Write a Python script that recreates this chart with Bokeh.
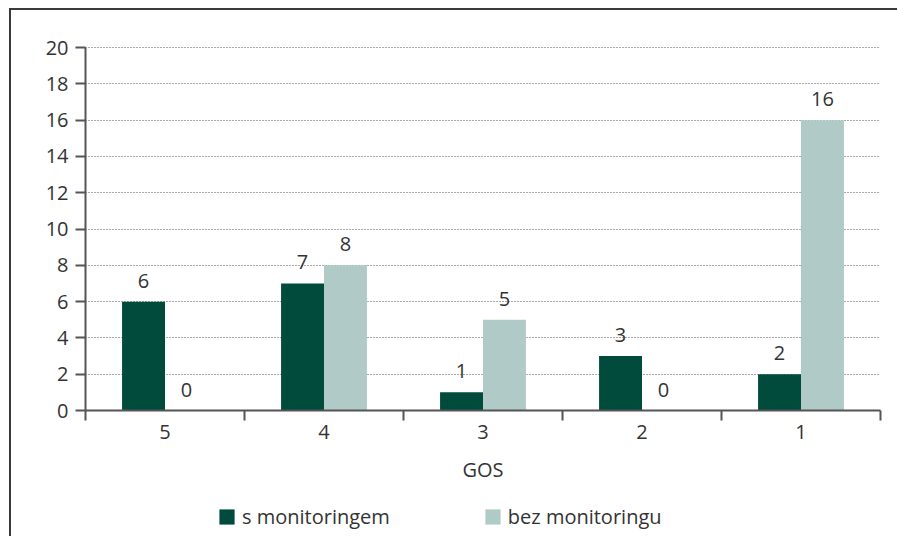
from bokeh.plotting import figure
from bokeh.layouts import column
from bokeh.models import ColumnDataSource, Range1d, FixedTicker, Legend, LegendItem, LabelSet
from bokeh.embed import file_html
from bokeh.resources import INLINE
from bokeh.core.properties import value

categories = ["5", "4", "3", "2", "1"]
s_monitoringem = [6, 7, 1, 3, 2]
bez_monitoringu = [0, 8, 5, 0, 16]
y_ticks = [0, 2, 4, 6, 8, 10, 12, 14, 16, 18, 20]
series_names = ["s monitoringem", "bez monitoringu"]

DARK = "#004b3c"
LIGHT = "#b0cbc7"
TXT = "#333333"
AX = "#555555"
FONT = "Open Sans"
FS = "20px"

centers = [i + 0.5 for i in range(len(categories))]
bw = 0.27
src_a = ColumnDataSource(dict(x=[c - bw / 2 for c in centers], y=s_monitoringem,
                              lab=[str(v) for v in s_monitoringem]))
src_b = ColumnDataSource(dict(x=[c + bw / 2 for c in centers], y=bez_monitoringu,
                              lab=[str(v) for v in bez_monitoringu]))

p = figure(width=886, height=485, output_backend="svg", toolbar_location=None,
           x_range=Range1d(0, len(categories)), y_range=Range1d(0, 20.06),
           min_border_left=74, min_border_right=17, min_border_top=36, min_border_bottom=85)
p.outline_line_color = None

ra = p.vbar(x="x", top="y", width=bw, bottom=0, source=src_a, fill_color=DARK, line_color=None)
rb = p.vbar(x="x", top="y", width=bw, bottom=0, source=src_b, fill_color=LIGHT, line_color=None)

for src in (src_a, src_b):
    p.add_layout(LabelSet(x="x", y="y", text="lab", source=src, y_offset=14,
                          text_align="center", text_baseline="bottom",
                          text_font=value(FONT), text_font_size=FS, text_color=TXT))

# x axis
xa = p.xaxis[0]
xa.ticker = FixedTicker(ticks=centers, minor_ticks=list(range(len(categories) + 1)))
xa.major_label_overrides = {c: lab for c, lab in zip(centers, categories)}
xa.major_tick_line_color = None
xa.major_tick_out = 0
xa.major_tick_in = 0
xa.minor_tick_out = 10
xa.minor_tick_in = 0
xa.minor_tick_line_color = AX
xa.minor_tick_line_width = 2
xa.axis_line_color = AX
xa.axis_line_width = 2
xa.major_label_text_font = FONT
xa.major_label_text_font_size = FS
xa.major_label_text_color = TXT
xa.major_label_standoff = 4
xa.axis_label = "GOS"
xa.axis_label_text_font = FONT
xa.axis_label_text_font_size = FS
xa.axis_label_text_font_style = "normal"
xa.axis_label_text_color = TXT
xa.axis_label_standoff = 14

# y axis
ya = p.yaxis[0]
ya.ticker = FixedTicker(ticks=y_ticks)
ya.bounds = (0, 20)
ya.minor_tick_line_color = None
ya.major_tick_out = 10
ya.major_tick_in = 0
ya.major_tick_line_color = AX
ya.major_tick_line_width = 2
ya.axis_line_color = AX
ya.axis_line_width = 2
ya.major_label_text_font = FONT
ya.major_label_text_font_size = FS
ya.major_label_text_color = TXT
ya.major_label_standoff = 7

p.xgrid.grid_line_color = None
p.ygrid.grid_line_color = AX
p.ygrid.grid_line_dash = "1 2"
p.ygrid.grid_line_width = 1

# legend strip
lf = figure(width=886, height=41, output_backend="svg", toolbar_location=None,
            x_range=Range1d(0, 1), y_range=Range1d(0, 1),
            x_axis_location=None, y_axis_location=None,
            min_border_left=0, min_border_right=0, min_border_top=0, min_border_bottom=0)
lf.outline_line_color = None
lf.xgrid.visible = False
lf.ygrid.visible = False
offscreen = dict(x=[-5], y=[0])
la = lf.vbar(x="x", top="y", width=0.1, source=ColumnDataSource(offscreen), fill_color=DARK, line_color=None)
lb = lf.vbar(x="x", top="y", width=0.1, source=ColumnDataSource(offscreen), fill_color=LIGHT, line_color=None)
legend = Legend(items=[LegendItem(label=series_names[0], renderers=[la]),
                       LegendItem(label=series_names[1], renderers=[lb])],
                orientation="horizontal", location=(132, 6),
                label_text_font=FONT, label_text_font_size=FS, label_text_color=TXT,
                glyph_width=19, glyph_height=19, label_standoff=6, spacing=93,
                border_line_color=None, background_fill_alpha=0, padding=0, margin=0)
lf.add_layout(legend, "center")

layout = column(p, lf, spacing=0,
                styles={"margin-top": "8px", "margin-left": "9px",
                        "border-top": "2px solid #3a3a3a", "border-left": "2px solid #3a3a3a"})

open("out.html", "w").write(file_html(layout, INLINE))
